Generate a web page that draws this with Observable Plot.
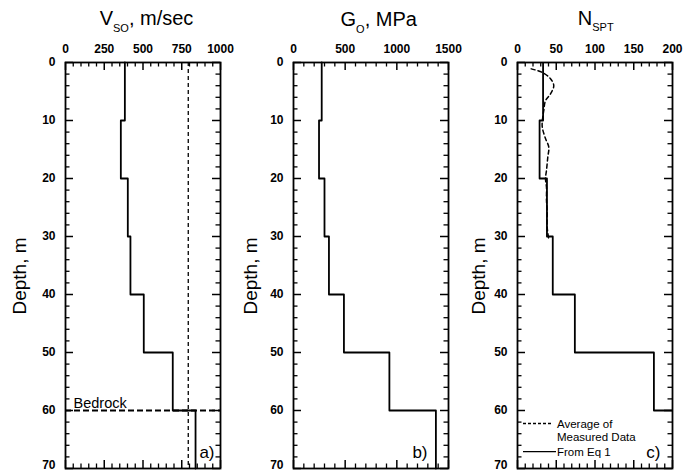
<!DOCTYPE html>
<html><head><meta charset="utf-8">
<script src="https://cdn.jsdelivr.net/npm/d3@7"></script>
<script src="https://cdn.jsdelivr.net/npm/@observablehq/plot@0.6"></script>
<style>
body{margin:0;background:#fff;}
#wrap{position:relative;width:697px;height:472px;overflow:hidden;font-family:"Liberation Sans",Arial,sans-serif;background:#fff;}
#wrap svg{position:absolute;top:0;overflow:visible;}
</style></head><body><div id="wrap"></div>
<script>
// ---- data ----
const layerTop = [0, 10, 20, 30, 40, 50, 60];
const layerBottom = [10, 20, 30, 40, 50, 60, 70];
const vsValues = [383, 357, 402, 419, 505, 692, 839];
const gValues = [273, 247, 300, 343, 488, 928, 1378];
const nEq1Values = [33, 28.5, 38, 45.5, 74, 176, 250];
const nMeasuredDepth = [1.1, 1.7, 2.8, 4.0, 5.4, 6.6, 8.3, 9.4, 11.1, 13.1, 14.6, 16.3, 18.6, 20, 21.5, 23.8, 25.5, 28.4, 30.5];
const nMeasuredValue = [17.7, 31.9, 42.6, 46.8, 42.6, 36.1, 33.9, 32.6, 31.9, 36.1, 40.4, 39.1, 37.4, 36.1, 37.4, 37.4, 38.3, 38.3, 40.4];
const bedrockDepth = [60];
const vsReference = [792];
const depthTicks = [0, 10, 20, 30, 40, 50, 60];
const depthBottomTick = [70];
const depthMinor = [2,4,6,8,12,14,16,18,22,24,26,28,32,34,36,38,42,44,46,48,52,54,56,58,62,64,66,68];
const vsTicks = [0, 250, 500, 750, 1000];
const gTicks = [0, 500, 1000, 1500];
const nTicks = [0, 50, 100, 150, 200];
const vsMinorStep = 50, gMinorStep = 100, nMinorStep = 10;
const panelLabels = ["a)", "b)", "c)"];

function steps(values) {
  const pts = [];
  values.forEach((v, i) => { pts.push({x: v, y: layerTop[i]}); pts.push({x: v, y: layerBottom[i]}); });
  return pts;
}
const measured = nMeasuredDepth.map((d, i) => ({x: nMeasuredValue[i], y: d}));

const FH = 406;
const font = '"Liberation Sans", Arial, sans-serif';
const fmt = d => String(d);

function panel({left, width, frameLeft, frameRight, majorX, minorStep, marks, label, labelDx}) {
  const fw = frameRight - frameLeft;
  const domain = [majorX[0], majorX[majorX.length - 1]];
  const minorX = d3.range(domain[0], domain[1] + 1e-9, minorStep).filter(v => !majorX.includes(v));
  const allDepth = depthTicks.concat(depthBottomTick);
  const svg = Plot.plot({
    width, height: 472,
    marginLeft: frameLeft - left, marginRight: left + width - frameRight,
    marginTop: 62, marginBottom: 4,
    style: {fontFamily: font, background: "transparent", overflow: "visible", color: "#000"},
    x: {domain, label: null},
    y: {domain: [0, 70], reverse: true, label: null},
    marks: [
      Plot.tickX(majorX, {x: d => d, insetBottom: FH - 8, strokeWidth: 1.5}),
      Plot.tickX(majorX, {x: d => d, insetTop: FH - 8, strokeWidth: 1.5}),
      Plot.tickX(minorX, {x: d => d, insetBottom: FH - 4.5, strokeWidth: 1.3}),
      Plot.tickX(minorX, {x: d => d, insetTop: FH - 4.5, strokeWidth: 1.3}),
      Plot.tickY(allDepth, {y: d => d, insetRight: fw - 8, strokeWidth: 1.5}),
      Plot.tickY(allDepth, {y: d => d, insetLeft: fw - 8, strokeWidth: 1.5}),
      Plot.tickY(depthMinor, {y: d => d, insetRight: fw - 4.5, strokeWidth: 1.3}),
      Plot.tickY(depthMinor, {y: d => d, insetLeft: fw - 4.5, strokeWidth: 1.3}),
      ...marks,
      Plot.frame({strokeWidth: 1.8}),
      Plot.axisX(majorX, {anchor: "top", tickSize: 0, tickPadding: 10, tickFormat: fmt, fontSize: 12, fontWeight: "bold", label: null}),
      Plot.axisY(depthTicks, {anchor: "left", tickSize: 0, tickPadding: 10, tickFormat: fmt, fontSize: 12, fontWeight: "bold", label: null}),
      Plot.axisY(depthBottomTick, {anchor: "left", tickSize: 0, tickPadding: 10, tickFormat: fmt, fontSize: 12, fontWeight: "bold", label: null, dy: -3}),
      Plot.text([label], {frameAnchor: "bottom-right", text: d => d, textAnchor: "end", lineAnchor: "bottom", dx: labelDx, dy: -11, fontSize: 17})
    ]
  });
  svg.style.left = left + "px";
  return svg;
}

const wrap = document.getElementById("wrap");

wrap.appendChild(panel({
  left: 0, width: 228, frameLeft: 65, frameRight: 220, majorX: vsTicks, minorStep: vsMinorStep,
  label: panelLabels[0], labelDx: -6,
  marks: [
    Plot.ruleX(vsReference, {x: d => d, strokeWidth: 1.3, strokeDasharray: "4,3"}),
    Plot.ruleY(bedrockDepth, {y: d => d, strokeWidth: 2, strokeDasharray: "6,3"}),
    Plot.text(["Bedrock"], {frameAnchor: "left", y: bedrockDepth[0], text: d => d, textAnchor: "start", lineAnchor: "bottom", dx: 8, dy: -3, fontSize: 14.5}),
    Plot.line(steps(vsValues), {x: "x", y: "y", strokeWidth: 1.8})
  ]
}));

wrap.appendChild(panel({
  left: 228, width: 230, frameLeft: 293, frameRight: 448, majorX: gTicks, minorStep: gMinorStep,
  label: panelLabels[1], labelDx: -21,
  marks: [
    Plot.line(steps(gValues), {x: "x", y: "y", strokeWidth: 1.8})
  ]
}));

wrap.appendChild(panel({
  left: 458, width: 239, frameLeft: 517, frameRight: 672, majorX: nTicks, minorStep: nMinorStep,
  label: panelLabels[2], labelDx: -12,
  marks: [
    Plot.line(measured, {x: "x", y: "y", strokeWidth: 1.5, strokeDasharray: "4,3", curve: "catmull-rom"}),
    Plot.line(steps(nEq1Values), {x: "x", y: "y", strokeWidth: 1.8, clip: true})
  ]
}));

// overlay: titles, axis titles, legend
const NS = "http://www.w3.org/2000/svg";
const ov = document.createElementNS(NS, "svg");
ov.setAttribute("width", 697); ov.setAttribute("height", 472);
ov.style.left = "0px"; ov.style.pointerEvents = "none";
ov.setAttribute("font-family", font);
ov.innerHTML = `
<text x="146.5" y="25" font-size="20" text-anchor="middle">V<tspan font-size="11" dy="7">SO</tspan><tspan dy="-7">, m/sec</tspan></text>
<text x="378.7" y="26" font-size="20" text-anchor="middle">G<tspan font-size="11" dy="7">O</tspan><tspan dy="-7">, MPa</tspan></text>
<text x="595.7" y="25" font-size="20" text-anchor="middle">N<tspan font-size="11" dy="6">SPT</tspan></text>
<text transform="translate(26,276) rotate(-90)" font-size="19" text-anchor="middle">Depth, m</text>
<text transform="translate(256.5,276) rotate(-90)" font-size="19" text-anchor="middle">Depth, m</text>
<text transform="translate(485,276) rotate(-90)" font-size="19" text-anchor="middle">Depth, m</text>
<line x1="523" x2="553" y1="423.5" y2="423.5" stroke="#000" stroke-width="1.3" stroke-dasharray="3,2"/>
<text x="557" y="427.5" font-size="11.5">Average of</text>
<text x="557" y="441" font-size="11.5">Measured Data</text>
<line x1="523" x2="556" y1="451.7" y2="451.7" stroke="#000" stroke-width="1.3"/>
<text x="557" y="455.5" font-size="11.5">From Eq  1</text>
`;
ov.querySelectorAll("text").forEach(t => t.setAttribute("xml:space", "preserve"));
wrap.appendChild(ov);
</script>
</body></html>
